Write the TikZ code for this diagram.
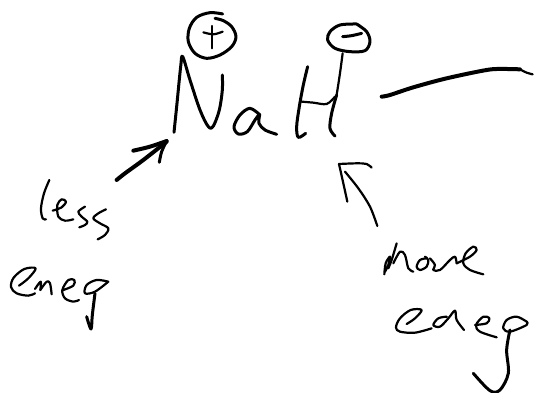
\documentclass[tikz,border=0pt]{standalone}
\tikzset{
  ink/.style={draw=black,line width=3pt,line cap=round,line join=round},
  fineink/.style={draw=black,line width=2.2pt,line cap=round,line join=round},
  boldink/.style={draw=black,line width=4pt,line cap=round,line join=round},
}
\newcommand{\stroke}[2]{\draw[#1] plot[smooth,tension=0.55] coordinates {#2};}
\begin{document}
\begin{tikzpicture}[x=1pt,y=-1pt]
\useasboundingbox (0,0) rectangle (539,393);
% top formula
\begin{scope}[shift={(160,0)},x=0.3333pt,y=-0.3333pt]
\stroke{ink}{(188,42)(150,38)(110,52)(88,85)(85,125)(105,160)(140,175)(180,165)(215,140)(228,110)(215,80)(190,62)(165,55)}
\stroke{fineink}{(157,78)(157,145)}
\stroke{fineink}{(130,97)(160,103)(188,95)}
\stroke{ink}{(590,72)(540,75)(510,95)(503,120)(525,145)(570,155)(615,152)(630,125)(620,95)(590,72)}
\stroke{ink}{(548,110)(575,107)(605,100)}
\stroke{ink}{(42,397)(50,320)(62,200)(68,170)(90,240)(120,330)(145,380)(160,378)(178,330)(187,270)(187,225)}
\stroke{ink}{(300,345)(270,325)(240,345)(222,380)(235,402)(262,395)(285,360)(298,345)(297,370)(315,390)(350,403)}
\stroke{ink}{(443,200)(430,255)(418,320)(410,380)(415,412)(437,400)}
\stroke{fineink}{(425,305)(460,308)(500,312)(525,290)}
\stroke{fineink}{(548,160)(540,220)(530,285)}
\stroke{ink}{(530,285)(515,340)(510,385)(525,408)}
\end{scope}
% long dash
\begin{scope}[shift={(370,50)},x=0.3333pt,y=-0.3333pt]
\stroke{boldink}{(35,140)(60,135)(130,112)(230,85)(350,60)(400,57)(450,58)}
\stroke{fineink}{(450,58)(470,68)(488,73)}
\end{scope}
% left arrow
\begin{scope}[shift={(0,130)},x=0.3333pt,y=-0.3333pt]
\stroke{boldink}{(350,150)(375,130)(430,90)(500,35)}
\stroke{boldink}{(400,62)(450,50)(500,33)}
\stroke{ink}{(500,33)(485,65)(478,97)}
\end{scope}
% less
\begin{scope}[shift={(30,170)},x=0.3333pt,y=-0.3333pt]
\stroke{fineink}{(58,30)(42,70)(33,115)(38,145)(48,148)}
\stroke{fineink}{(68,122)(95,112)(108,95)(95,88)(82,105)(85,140)(105,152)(130,148)}
\stroke{fineink}{(165,110)(145,125)(155,140)(172,155)(165,165)(148,172)}
\stroke{fineink}{(228,118)(205,130)(190,145)(210,160)(235,175)(225,195)(203,208)}
\end{scope}
% eneg, left
\begin{scope}[shift={(5,265)},x=0.3333pt,y=-0.3333pt]
\stroke{fineink}{(42,62)(70,40)(92,10)(58,12)(26,38)(18,66)(35,85)(70,92)(90,85)}
\stroke{fineink}{(90,72)(107,50)(106,75)}
\stroke{fineink}{(106,75)(125,50)(135,55)(140,88)}
\stroke{fineink}{(175,75)(205,62)(208,45)(190,45)(172,75)(180,100)(205,110)(222,105)}
\stroke{fineink}{(310,50)(275,45)(245,60)(240,85)(270,80)(310,50)}
\stroke{ink}{(270,85)(262,150)(258,192)(245,155)}
\end{scope}
% right arrow
\begin{scope}[shift={(330,150)},x=0.3333pt,y=-0.3333pt]
\stroke{fineink}{(142,228)(120,170)(85,115)(45,65)}
\stroke{fineink}{(52,155)(40,100)(27,42)}
\stroke{fineink}{(27,42)(80,40)(110,42)(125,53)}
\stroke{ink}{(540,540)(530,600)(535,670)(510,720)(480,722)(430,670)}
\end{scope}
% more
\begin{scope}[shift={(375,235)},x=0.3333pt,y=-0.3333pt]
\stroke{fineink}{(28,118)(32,85)(45,65)(40,90)(30,110)}
\stroke{fineink}{(65,25)(50,75)(40,100)}
\stroke{fineink}{(55,85)(75,50)(90,60)(100,100)(115,110)}
\stroke{fineink}{(155,70)(135,75)(125,95)(135,105)(155,95)(160,75)(150,65)}
\stroke{fineink}{(165,70)(180,90)(175,105)(195,105)(225,75)(240,65)(245,85)}
\stroke{fineink}{(245,85)(285,65)(305,45)(295,35)(272,55)(265,85)(285,105)(325,118)}
\end{scope}
% eneg, right
\begin{scope}[shift={(390,300)},x=0.3333pt,y=-0.3333pt]
\stroke{fineink}{(50,72)(75,55)(95,30)(62,30)(30,55)(18,82)(30,95)(75,98)(125,85)}
\stroke{fineink}{(170,50)(145,55)(130,75)(150,80)(175,55)(195,32)(200,60)(222,90)}
\stroke{fineink}{(255,75)(290,70)(298,55)(280,50)(258,75)(270,95)(320,112)}
\stroke{fineink}{(410,65)(380,50)(350,60)(340,85)(360,95)(410,75)(410,65)}
\end{scope}
\end{tikzpicture}
\end{document}
